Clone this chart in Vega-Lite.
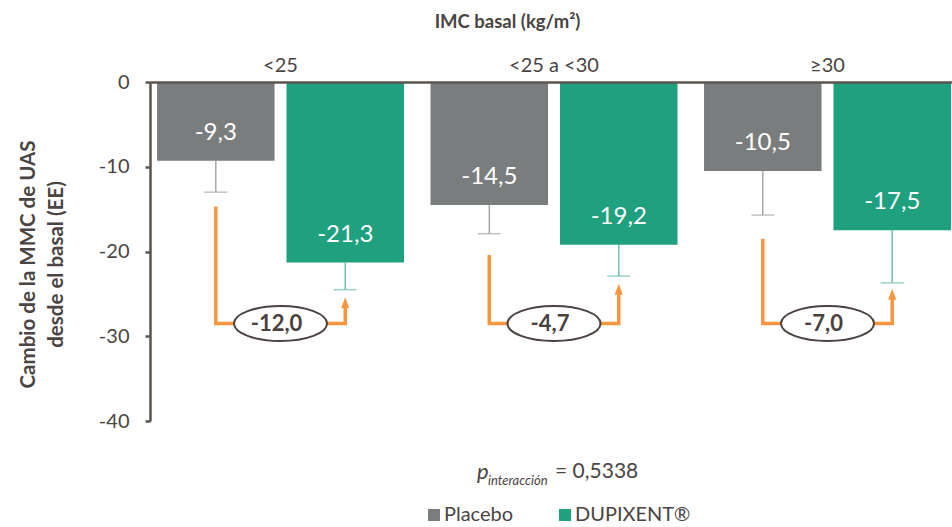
{
  "$schema": "https://vega.github.io/schema/vega-lite/v6.json",
  "width": 802,
  "height": 339,
  "autosize": {"type": "none"},
  "padding": {"left": 150, "top": 82, "right": 0, "bottom": 106},
  "background": "white",
  "config": {
    "font": "Lato",
    "view": {"stroke": null},
    "locale": {"number": {"decimal": ",", "thousands": ".", "grouping": [3], "currency": ["", " €"], "minus": "-"}}
  },
  "datasets": {
    "bars": [
      {"group": "<25", "treatment": "Placebo", "value": -9.3, "err": -13.0},
      {"group": "<25", "treatment": "DUPIXENT®", "value": -21.3, "err": -24.5},
      {"group": "<25 a <30", "treatment": "Placebo", "value": -14.5, "err": -17.9},
      {"group": "<25 a <30", "treatment": "DUPIXENT®", "value": -19.2, "err": -22.9},
      {"group": "≥30", "treatment": "Placebo", "value": -10.5, "err": -15.7},
      {"group": "≥30", "treatment": "DUPIXENT®", "value": -17.5, "err": -23.7}
    ],
    "connectors": [
      {"group": "<25", "treatment": "Placebo", "step": 1, "y": -14.7},
      {"group": "<25", "treatment": "Placebo", "step": 2, "y": -28.5},
      {"group": "<25", "treatment": "DUPIXENT®", "step": 3, "y": -28.5},
      {"group": "<25", "treatment": "DUPIXENT®", "step": 4, "y": -26.4},
      {"group": "<25 a <30", "treatment": "Placebo", "step": 1, "y": -20.4},
      {"group": "<25 a <30", "treatment": "Placebo", "step": 2, "y": -28.5},
      {"group": "<25 a <30", "treatment": "DUPIXENT®", "step": 3, "y": -28.5},
      {"group": "<25 a <30", "treatment": "DUPIXENT®", "step": 4, "y": -24.8},
      {"group": "≥30", "treatment": "Placebo", "step": 1, "y": -18.5},
      {"group": "≥30", "treatment": "Placebo", "step": 2, "y": -28.5},
      {"group": "≥30", "treatment": "DUPIXENT®", "step": 3, "y": -28.5},
      {"group": "≥30", "treatment": "DUPIXENT®", "step": 4, "y": -25.4}
    ],
    "arrows": [
      {"group": "<25", "treatment": "DUPIXENT®", "tip": -25.4},
      {"group": "<25 a <30", "treatment": "DUPIXENT®", "tip": -23.8},
      {"group": "≥30", "treatment": "DUPIXENT®", "tip": -24.4}
    ],
    "diffs": [
      {"group": "<25", "diff": -12.0, "y": -28.5},
      {"group": "<25 a <30", "diff": -4.7, "y": -28.5},
      {"group": "≥30", "diff": -7.0, "y": -28.5}
    ],
    "pval": [
      {"group": "<25 a <30", "y": -46.0, "p": "p", "sub": "interacción", "val": "= 0,5338"}
    ]
  },
  "encoding": {
    "x": {
      "field": "group",
      "type": "nominal",
      "sort": ["<25", "<25 a <30", "≥30"],
      "scale": {"paddingInner": 0.097, "paddingOuter": 0.0147, "align": 0.875},
      "axis": {
        "orient": "top",
        "title": "IMC basal (kg/m²)",
        "titleFontSize": 18.5,
        "titleFontWeight": "bold",
        "titleColor": "#4a4442",
        "titleX": 357,
        "titleY": -61,
        "titleBaseline": "middle",
        "titleAnchor": "middle",
        "titleAlign": "center",
        "labelAngle": 0,
        "labelFontSize": 20,
        "labelColor": "#4a4442",
        "labelPadding": 7,
        "ticks": false,
        "domainColor": "#5c534e",
        "domainWidth": 2.5,
        "zindex": 1
      }
    }
  },
  "layer": [
    {
      "data": {"name": "bars"},
      "mark": {"type": "bar"},
      "encoding": {
        "xOffset": {"field": "treatment", "type": "nominal", "sort": ["Placebo", "DUPIXENT®"], "scale": {"paddingInner": 0.0923, "paddingOuter": 0}},
        "y": {
          "field": "value",
          "type": "quantitative",
          "stack": null,
          "scale": {"domain": [-40, 0], "nice": false, "zero": true},
          "axis": {
            "title": ["Cambio de la MMC de UAS", "desde el basal (EE)"],
            "titleFontSize": 20.5,
            "titleFontWeight": "bold",
            "titleColor": "#4a4442",
            "titleLineHeight": 28,
            "titleX": -122,
            "titleY": 182,
            "titleBaseline": "middle",
            "titleAlign": "center",
            "titleAngle": -90,
            "values": [0, -10, -20, -30, -40],
            "format": "d",
            "labelFontSize": 20,
            "labelColor": "#4a4442",
            "labelPadding": 16,
            "tickSize": 5,
            "tickWidth": 2.5,
            "tickColor": "#5c534e",
            "domainColor": "#5c534e",
            "domainWidth": 2.5,
            "grid": false,
            "zindex": 1
          }
        },
        "color": {
          "field": "treatment",
          "type": "nominal",
          "scale": {"domain": ["Placebo", "DUPIXENT®"], "range": ["#7a7d7d", "#1fa07e"]},
          "legend": {
            "orient": "none",
            "legendX": 274,
            "legendY": 423,
            "direction": "horizontal",
            "title": null,
            "symbolType": "square",
            "symbolSize": 144,
            "symbolStrokeWidth": 0,
            "labelFontSize": 20,
            "labelColor": "#4a4442",
            "labelOffset": 0,
            "columnPadding": 41,
            "padding": 0
          }
        }
      }
    },
    {
      "data": {"name": "bars"},
      "mark": {"type": "text", "color": "white", "fontSize": 24, "baseline": "middle", "align": "center", "dy": -28},
      "encoding": {
        "xOffset": {"field": "treatment", "type": "nominal", "sort": ["Placebo", "DUPIXENT®"]},
        "y": {"field": "value", "type": "quantitative"},
        "text": {"field": "value", "type": "quantitative", "format": ".1f"}
      }
    },
    {
      "data": {"name": "bars"},
      "mark": {"type": "rule", "strokeWidth": 1.5},
      "encoding": {
        "xOffset": {"field": "treatment", "type": "nominal", "sort": ["Placebo", "DUPIXENT®"]},
        "y": {"field": "value", "type": "quantitative"},
        "y2": {"field": "err"},
        "color": {"condition": {"test": "datum.treatment === 'Placebo'", "value": "#a8a8a8"}, "value": "#6cc2a8"}
      }
    },
    {
      "data": {"name": "bars"},
      "mark": {"type": "tick", "thickness": 1.5, "size": 23, "orient": "horizontal"},
      "encoding": {
        "xOffset": {"field": "treatment", "type": "nominal", "sort": ["Placebo", "DUPIXENT®"]},
        "y": {"field": "err", "type": "quantitative"},
        "color": {"condition": {"test": "datum.treatment === 'Placebo'", "value": "#a8a8a8"}, "value": "#6cc2a8"}
      }
    },
    {
      "data": {"name": "connectors"},
      "mark": {"type": "line", "color": "#f7963f", "strokeWidth": 3.5, "strokeJoin": "miter", "strokeCap": "butt"},
      "encoding": {
        "xOffset": {"field": "treatment", "type": "nominal", "sort": ["Placebo", "DUPIXENT®"]},
        "y": {"field": "y", "type": "quantitative"},
        "detail": {"field": "group"},
        "order": {"field": "step", "type": "quantitative"}
      }
    },
    {
      "data": {"name": "arrows"},
      "mark": {"type": "point", "shape": "M0,0L0.75,2L-0.75,2Z", "size": 121, "filled": true, "color": "#f7963f", "opacity": 1},
      "encoding": {
        "xOffset": {"field": "treatment", "type": "nominal", "sort": ["Placebo", "DUPIXENT®"]},
        "y": {"field": "tip", "type": "quantitative"}
      }
    },
    {
      "data": {"name": "diffs"},
      "mark": {
        "type": "point",
        "shape": "M-1,0C-1,-0.2077,-0.5523,-0.376,0,-0.376C0.5523,-0.376,1,-0.2077,1,0C1,0.2077,0.5523,0.376,0,0.376C-0.5523,0.376,-1,0.2077,-1,0Z",
        "size": 8649,
        "fill": "white",
        "stroke": "#4a423e",
        "strokeWidth": 2,
        "opacity": 1,
        "fillOpacity": 1,
        "dx": -4
      },
      "encoding": {
        "y": {"field": "y", "type": "quantitative"}
      }
    },
    {
      "data": {"name": "diffs"},
      "mark": {"type": "text", "fontSize": 22, "fontWeight": "bold", "color": "#4a423e", "baseline": "middle", "align": "center", "dx": -4},
      "encoding": {
        "y": {"field": "y", "type": "quantitative"},
        "text": {"field": "diff", "type": "quantitative", "format": ".1f"}
      }
    },
    {
      "data": {"name": "pval"},
      "mark": {"type": "text", "fontSize": 22, "fontStyle": "italic", "color": "#4a4442", "baseline": "middle", "align": "left", "dx": -77},
      "encoding": {
        "y": {"field": "y", "type": "quantitative"},
        "text": {"field": "p"}
      }
    },
    {
      "data": {"name": "pval"},
      "mark": {"type": "text", "fontSize": 13, "fontStyle": "italic", "color": "#4a4442", "baseline": "middle", "align": "left", "dx": -66, "dy": 9},
      "encoding": {
        "y": {"field": "y", "type": "quantitative"},
        "text": {"field": "sub"}
      }
    },
    {
      "data": {"name": "pval"},
      "mark": {"type": "text", "fontSize": 21, "color": "#4a4442", "baseline": "middle", "align": "left", "dx": 1},
      "encoding": {
        "y": {"field": "y", "type": "quantitative"},
        "text": {"field": "val"}
      }
    }
  ]
}
